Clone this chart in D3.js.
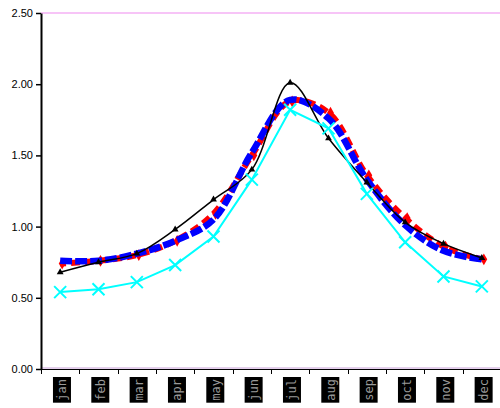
<!DOCTYPE html>
<html>
<head>
<meta charset="utf-8">
<script src="https://cdn.jsdelivr.net/npm/d3@7"></script>
<style>
  body { margin: 0; background: #fff; }
  svg { display: block; font-family: "Liberation Sans", Arial, sans-serif; }
</style>
</head>
<body>
<div id="chart"></div>
<script>
var months = ["jan", "feb", "mar", "apr", "may", "jun", "jul", "aug", "sep", "oct", "nov", "dec"];
var yTicks = [0, 0.5, 1, 1.5, 2, 2.5];

var redVals   = [0.74, 0.76, 0.80, 0.90, 1.09, 1.50, 1.88, 1.80, 1.36, 1.06, 0.86, 0.77];
var blueVals  = [0.76, 0.76, 0.81, 0.90, 1.05, 1.52, 1.89, 1.76, 1.33, 1.01, 0.83, 0.77];
var blackVals = [0.68, 0.75, 0.81, 0.98, 1.19, 1.40, 2.01, 1.62, 1.31, 1.03, 0.88, 0.78];
var cyanVals  = [0.54, 0.56, 0.61, 0.73, 0.93, 1.33, 1.82, 1.69, 1.23, 0.89, 0.65, 0.58];

var width = 500, height = 408;
var plotL = 41, plotR = 501, plotT = 13, plotB = 369;

var svg = d3.select("#chart").append("svg")
    .attr("width", width)
    .attr("height", height)

var x = d3.scaleBand().domain(months).range([plotL, plotR])
var y = d3.scaleLinear().domain([0, 2.5]).range([plotB, plotT])
var cx = d => x(d) + x.bandwidth() / 2;

// plot area border (pink)
svg.append("line")
    .attr("x1", plotL).attr("x2", plotR)
    .attr("y1", y(2.5)).attr("y2", y(2.5))
    .attr("stroke", "#f7c4f7").attr("stroke-width", 2)
svg.append("line")
    .attr("x1", plotL).attr("x2", plotR)
    .attr("y1", y(0) - 1).attr("y2", y(0) - 1)
    .attr("stroke", "#c9a0d9").attr("stroke-width", 1)

// y axis
var yAxis = svg.append("g")
    .attr("transform", "translate(" + plotL + ",0)")
    .call(d3.axisLeft(y).tickValues(yTicks).tickFormat(d3.format(".2f")).tickSize(5).tickPadding(3).tickSizeOuter(0))
yAxis.select(".domain").attr("stroke", "#000").attr("stroke-width", 2)
yAxis.selectAll(".tick line").attr("stroke", "#000").attr("stroke-width", 1.5)
yAxis.selectAll(".tick text").attr("font-size", 11).attr("fill", "#000")
    .attr("font-family", "Liberation Sans, Arial, sans-serif")

// x axis line + ticks at category boundaries
svg.append("line")
    .attr("x1", plotL).attr("x2", plotR)
    .attr("y1", plotB + 0.5).attr("y2", plotB + 0.5)
    .attr("stroke", "#000").attr("stroke-width", 1)
svg.append("g").selectAll("line")
    .data(months)
    .enter().append("line")
    .attr("x1", d => Math.round(x(d)) + 0.5).attr("x2", d => Math.round(x(d)) + 0.5)
    .attr("y1", plotB).attr("y2", plotB + 5)
    .attr("stroke", "#000")

// x labels: rotated, light text on dark boxes
var lab = svg.append("g").selectAll("g")
    .data(months)
    .enter().append("g")
    .attr("transform", d => "translate(" + (cx(d) + 2) + "," + (plotB + 10) + ")")
lab.append("text")
    .text(d => d)
    .attr("transform", "rotate(-90)")
    .attr("text-anchor", "end")
    .attr("dy", "0.35em")
    .attr("font-size", 12)
    .attr("font-family", "DejaVu Sans Mono, monospace")
    .attr("fill", "#9a9a9a")
lab.each(function() {
  var g = d3.select(this);
  var b = g.select("text").node().getBBox();
  g.insert("rect", "text")
    .attr("x", -b.y - b.height - 2).attr("y", -2)
    .attr("width", b.height + 4).attr("height", b.width + 4)
    .attr("fill", "#000")
})

var smooth = d3.line()
    .x((d, i) => cx(months[i]))
    .y(d => y(d))
    .curve(d3.curveCatmullRom.alpha(0.5))
var straight = d3.line()
    .x((d, i) => cx(months[i]))
    .y(d => y(d))

// red dashed series
svg.append("path")
    .attr("d", smooth(redVals))
    .attr("fill", "none").attr("stroke", "#ff0000")
    .attr("stroke-width", 6).attr("stroke-dasharray", "9,5").attr("stroke-dashoffset", 3)
svg.append("g").selectAll("path")
    .data(redVals)
    .enter().append("path")
    .attr("d", d3.symbol(d3.symbolDiamond, 40))
    .attr("transform", (d, i) => "translate(" + (cx(months[i]) + 2) + "," + y(d) + ")")
    .attr("fill", "#ff0000")

// blue dashed series
svg.append("path")
    .attr("d", smooth(blueVals))
    .attr("fill", "none").attr("stroke", "#0000ff")
    .attr("stroke-width", 6.5).attr("stroke-dasharray", "12,3")

// black series with triangles
svg.append("path")
    .attr("d", smooth(blackVals))
    .attr("fill", "none").attr("stroke", "#000")
    .attr("stroke-width", 1.5)
svg.append("g").selectAll("path")
    .data(blackVals)
    .enter().append("path")
    .attr("d", d3.symbol(d3.symbolTriangle, 20))
    .attr("transform", (d, i) => "translate(" + cx(months[i]) + "," + y(d) + ")")
    .attr("fill", "#000")

// cyan series with X markers
svg.append("path")
    .attr("d", straight(cyanVals))
    .attr("fill", "none").attr("stroke", "#00ffff")
    .attr("stroke-width", 2)
svg.append("g").selectAll("path")
    .data(cyanVals)
    .enter().append("path")
    .attr("d", "M-6,-6L6,6M-6,6L6,-6")
    .attr("transform", (d, i) => "translate(" + cx(months[i]) + "," + y(d) + ")")
    .attr("stroke", "#00ffff").attr("stroke-width", 2)
</script>
</body>
</html>
